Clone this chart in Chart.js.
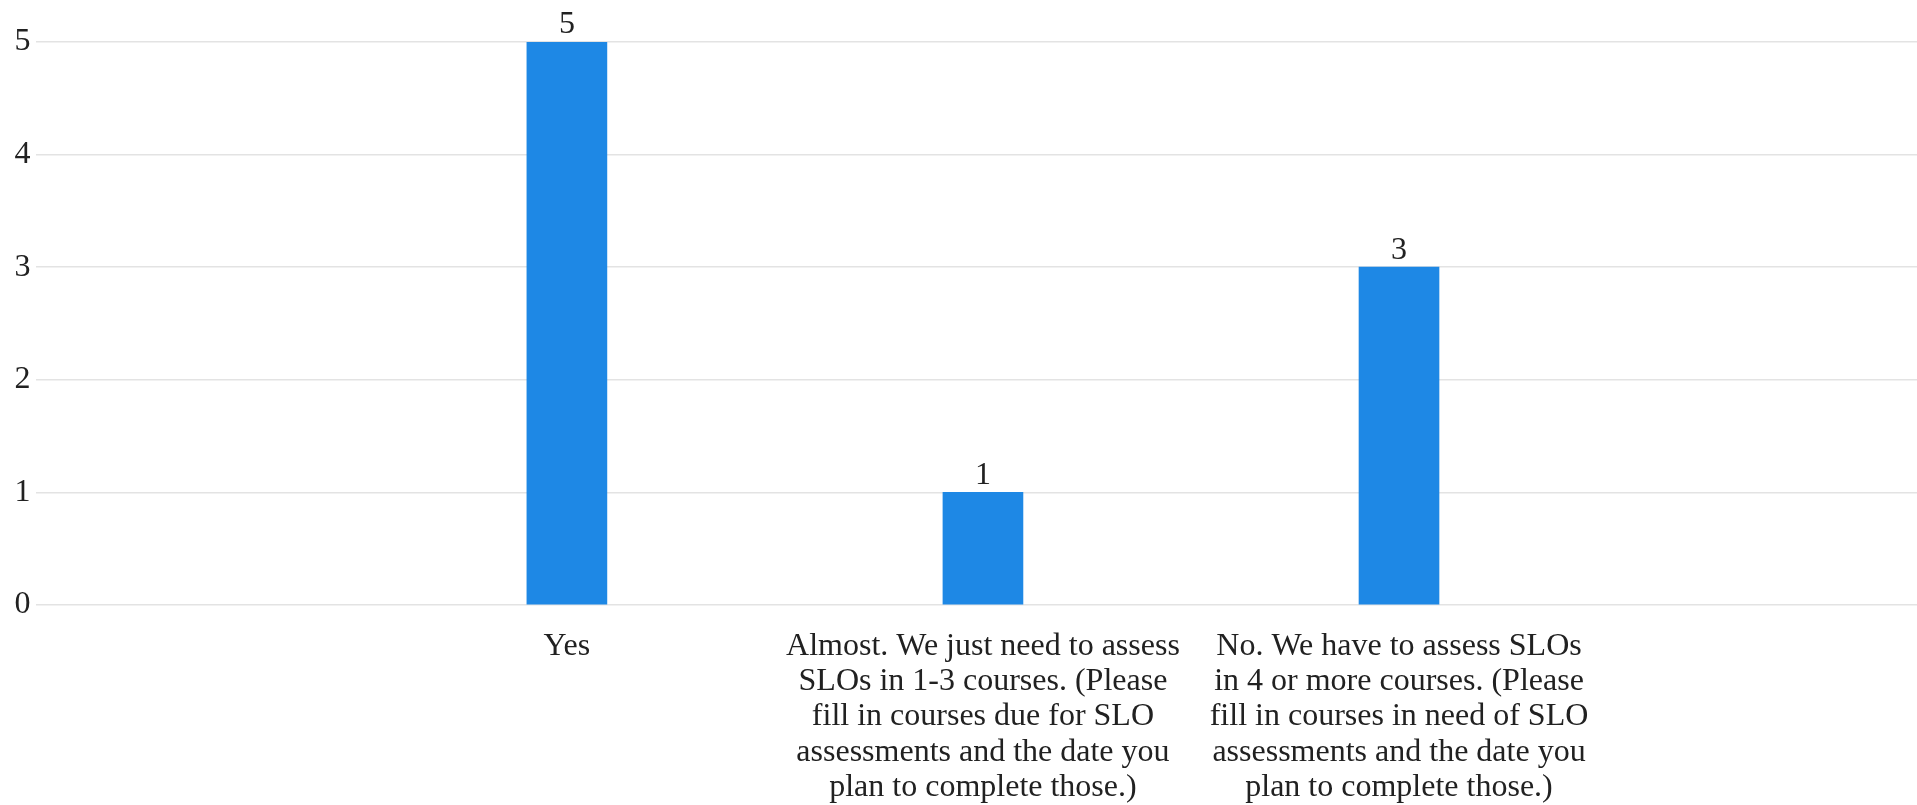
<!DOCTYPE html>
<html>
<head>
<meta charset="utf-8">
<title>SLO assessments</title>
<script src="https://cdn.jsdelivr.net/npm/chart.js@4.4.1/dist/chart.umd.min.js"></script>
<style>
  html, body { margin: 0; padding: 0; background: #fff; }
  #wrap { width: 1917px; height: 805px; position: relative; }
</style>
</head>
<body>
<div id="wrap"><canvas id="chart"></canvas></div>
<script>
// answer options, each split into the lines shown under the axis
const categories = [
  ['Yes'],
  ['Almost. We just need to assess', 'SLOs in 1-3 courses. (Please', 'fill in courses due for SLO', 'assessments and the date you', 'plan to complete those.)'],
  ['No. We have to assess SLOs', 'in 4 or more courses. (Please', 'fill in courses in need of SLO', 'assessments and the date you', 'plan to complete those.)']
];
const positions = [1, 2, 3];
const counts = [5, 1, 3];
const yTicks = [0, 1, 2, 3, 4, 5];

const textColor = '#212121';
const fontFamily = '"Liberation Serif", "Times New Roman", serif';
const fontSize = 32;

// write each bar's value just above it
const valueLabels = {
  id: 'valueLabels',
  afterDatasetsDraw(chart) {
    const ctx = chart.ctx;
    const meta = chart.getDatasetMeta(0);
    ctx.save();
    ctx.font = fontSize + 'px ' + fontFamily;
    ctx.fillStyle = textColor;
    ctx.textAlign = 'center';
    ctx.textBaseline = 'bottom';
    meta.data.forEach((bar, i) => {
      ctx.fillText(String(counts[i]), bar.x, bar.y - 1);
    });
    ctx.restore();
  }
};

new Chart(document.getElementById('chart'), {
  type: 'bar',
  data: {
    datasets: [{
      data: positions.map((x, i) => ({ x, y: counts[i] })),
      backgroundColor: '#1E88E5',
      borderWidth: 0,
      barThickness: 80
    }]
  },
  options: {
    responsive: true,
    maintainAspectRatio: false,
    animation: false,
    layout: { padding: { top: 42, left: 9, right: 0, bottom: 0 } },
    plugins: {
      legend: { display: false },
      tooltip: { enabled: false }
    },
    scales: {
      x: {
        type: 'linear',
        offset: false,
        bounds: 'data',
        min: -0.276,
        max: 4.245,
        grid: { display: false, drawTicks: false },
        border: { display: false },
        afterBuildTicks(scale) {
          scale.ticks = positions.map(v => ({ value: v }));
        },
        // padding only above the labels, not below
        afterFit(scale) {
          scale.height -= scale.options.ticks.padding;
        },
        ticks: {
          autoSkip: false,
          maxRotation: 0,
          minRotation: 0,
          padding: 24,
          color: textColor,
          font: { family: fontFamily, size: fontSize, lineHeight: 1.1 },
          callback: (value) => {
            const i = positions.indexOf(value);
            return i >= 0 ? categories[i] : '';
          }
        }
      },
      y: {
        min: 0,
        max: 5,
        afterBuildTicks(scale) {
          scale.ticks = yTicks.map(v => ({ value: v }));
        },
        grid: { color: '#e3e3e3', lineWidth: 1.5, drawTicks: false },
        border: { display: false },
        ticks: {
          padding: 5.5,
          color: textColor,
          font: { family: fontFamily, size: fontSize }
        }
      }
    }
  },
  plugins: [valueLabels]
});
</script>
</body>
</html>
